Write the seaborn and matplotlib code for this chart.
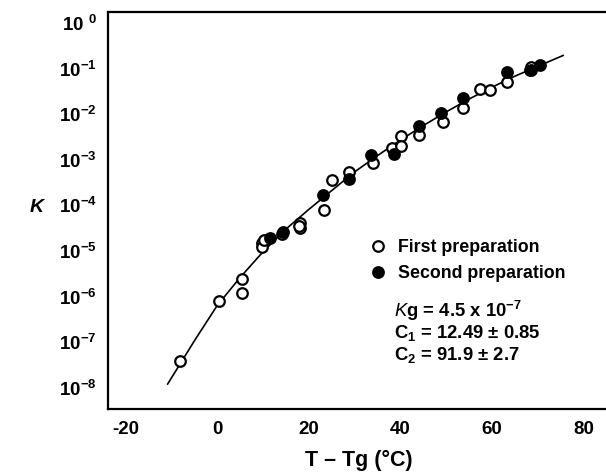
import matplotlib
matplotlib.use("Agg")
import matplotlib.pyplot as plt
import seaborn as sns
import pandas as pd
from matplotlib.lines import Line2D

# ---- data ----
first_x = [-8.1, 0.5, 5.4, 5.4, 9.9, 9.9, 10.2, 14.1, 18.1, 18.1, 17.8, 23.4,
           25.2, 28.7, 34.0, 38.1, 40.1, 40.1, 44.0, 49.4, 53.6, 57.4, 59.6,
           63.3, 68.3, 68.5]
first_K = [3.9e-8, 7.9e-7, 2.4e-6, 1.2e-6, 1.5e-5, 1.2e-5, 1.7e-5, 2.4e-5,
           4.1e-5, 3.2e-5, 3.5e-5, 8.1e-5, 3.6e-4, 5.4e-4, 8.3e-4, 1.8e-3,
           3.3e-3, 2.0e-3, 3.5e-3, 6.9e-3, 1.35e-2, 3.5e-2, 3.4e-2, 5.1e-2,
           9.3e-2, 1.1e-1]

second_x = [11.6, 14.5, 23.1, 28.7, 33.7, 38.7, 44.0, 48.8, 53.6, 63.4, 68.5, 70.4]
second_K = [1.95e-5, 2.6e-5, 1.7e-4, 3.8e-4, 1.3e-3, 1.35e-3, 5.5e-3, 1.07e-2,
            2.3e-2, 8.5e-2, 9.3e-2, 1.2e-1]

fit_x = [-10.8, -5, 0, 5, 10, 15, 20, 25, 30, 35, 40, 45, 50, 55, 60, 65, 70, 75.6]
fit_K = [1.20e-8, 1.05e-7, 6.3e-7, 2.6e-6, 9.5e-6, 3.0e-5, 8.1e-5, 2.1e-4,
         5.4e-4, 1.23e-3, 2.7e-3, 5.6e-3, 1.12e-2, 2.14e-2, 3.9e-2, 6.8e-2,
         1.12e-1, 1.95e-1]

x_ticks = [-20, 0, 20, 40, 60, 80]
x_tick_labels = ["-20", "0", "20", "40", "60", "80"]
y_ticks = [1e0, 1e-1, 1e-2, 1e-3, 1e-4, 1e-5, 1e-6, 1e-7, 1e-8]
y_tick_labels = ["10 $^{0}$", "10$^{-1}$", "10$^{-2}$", "10$^{-3}$", "10$^{-4}$",
                 "10$^{-5}$", "10$^{-6}$", "10$^{-7}$", "10$^{-8}$"]
legend_labels = ["First preparation", "Second preparation"]

# ---- style ----
sns.set_theme(style="white")
plt.rcParams["font.family"] = ["Liberation Sans", "DejaVu Sans"]
plt.rcParams["text.color"] = "black"
plt.rcParams["axes.labelcolor"] = "black"
plt.rcParams["axes.unicode_minus"] = False
plt.rcParams["mathtext.fontset"] = "custom"
plt.rcParams["mathtext.rm"] = "Liberation Sans"
plt.rcParams["mathtext.it"] = "Liberation Sans:italic"
plt.rcParams["mathtext.bf"] = "Liberation Sans:bold"
plt.rcParams["mathtext.default"] = "regular"

fig = plt.figure(figsize=(6.06, 4.76), dpi=100)
ax = fig.add_axes([108 / 606, 1 - 409 / 476, 1 - 108 / 606, (409 - 12) / 476])

df_fit = pd.DataFrame({"x": fit_x, "K": fit_K})
df1 = pd.DataFrame({"x": first_x, "K": first_K})
df2 = pd.DataFrame({"x": second_x, "K": second_K})

sns.lineplot(data=df_fit, x="x", y="K", ax=ax, color="black", lw=1.2,
             sort=False, zorder=2)
sns.scatterplot(data=df1, x="x", y="K", ax=ax, s=58, marker="o",
                facecolor="white", edgecolor="black", linewidth=1.6, zorder=3)
sns.scatterplot(data=df2, x="x", y="K", ax=ax, s=58, marker="o",
                facecolor="black", edgecolor="black", linewidth=1.6, zorder=4)

ax.set_yscale("log")
ax.set_xlim(-23.8, 84.9)
ax.set_ylim(3.43e-9, 1.74)

ax.set_xticks(x_ticks)
ax.set_xticklabels(x_tick_labels, fontsize=13.5, fontweight="bold")
ax.set_yticks(y_ticks)
ax.set_yticklabels(y_tick_labels, fontsize=13.5, fontweight="bold")
ax.minorticks_off()
ax.tick_params(axis="x", direction="in", length=8.5, width=1.1, pad=9,
               colors="black")
ax.tick_params(axis="y", direction="in", length=7.2, width=1.1, pad=8,
               colors="black")

for side in ["left", "bottom", "top"]:
    ax.spines[side].set_visible(True)
    ax.spines[side].set_color("black")
    ax.spines[side].set_linewidth(1.6)
ax.spines["right"].set_visible(False)

ax.set_xlabel("")
ax.set_ylabel("")
fig.text(359 / 606, 1 - 460 / 476, "T \u2013 Tg (\u00b0C)", ha="center",
         va="center", fontsize=15.5, fontweight="bold", color="black")
fig.text(37 / 606, 1 - 207 / 476, "K", ha="center", va="center", fontsize=14,
         fontweight="bold", fontstyle="italic", color="black")

handles = [
    Line2D([], [], marker="o", ls="none", markersize=7.6, markerfacecolor="white",
           markeredgecolor="black", markeredgewidth=1.6),
    Line2D([], [], marker="o", ls="none", markersize=7.6, markerfacecolor="black",
           markeredgecolor="black", markeredgewidth=1.6),
]
leg = ax.legend(handles, legend_labels, loc="upper left",
                bbox_to_anchor=(361.5 / 606, 1 - 230 / 476),
                bbox_transform=fig.transFigure, frameon=False, borderpad=0,
                handlelength=0.8, handletextpad=0.75, labelspacing=0.5,
                prop={"size": 12.8, "weight": "bold"}, labelcolor="black")

fig.text(394 / 606, 1 - 311 / 476, r"$\mathit{K}$g = 4.5 x 10$^{-7}$",
         ha="left", va="center", fontsize=13.3, fontweight="bold", color="black")
fig.text(394 / 606, 1 - 333 / 476, "C$_{1}$ = 12.49 \u00b1 0.85",
         ha="left", va="center", fontsize=13.3, fontweight="bold", color="black")
fig.text(394 / 606, 1 - 355 / 476, "C$_{2}$ = 91.9 \u00b1 2.7",
         ha="left", va="center", fontsize=13.3, fontweight="bold", color="black")

fig.savefig("out.png", dpi=100)
